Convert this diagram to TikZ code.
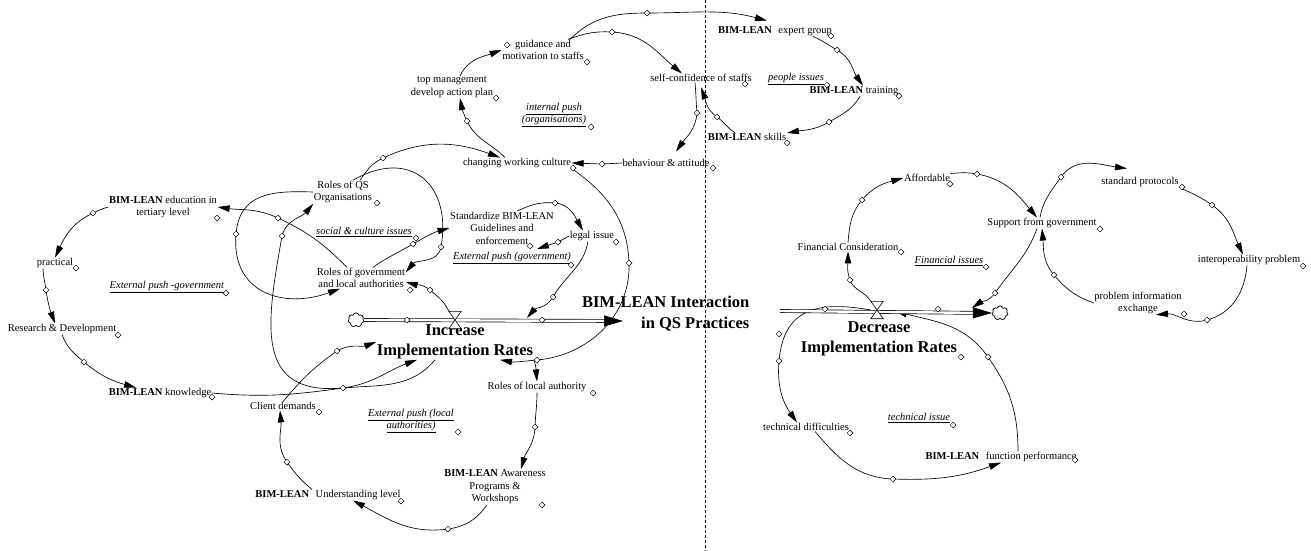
\documentclass[tikz,border=0pt]{standalone}
\usepackage{fontspec}
\setmainfont{Liberation Serif}
\usetikzlibrary{arrows.meta,shapes.geometric,shapes.symbols}
\newcommand{\bl}{\textbf{BIM-LEAN}}
\newcommand{\lpn}[1]{\underline{\textit{#1}}}

\begin{document}
\begin{tikzpicture}[x=1pt, y=1pt,
    lbl/.style={inner sep=0.5pt, align=center, font=\fontsize{10.5}{12.5}\selectfont},
    big/.style={inner sep=0.5pt, align=center, font=\fontsize{16.5}{20}\selectfont\bfseries},
    mk/.style={diamond, draw, fill=white, inner sep=0pt, minimum size=6pt, line width=0.5pt},
    lnk/.style={line width=0.65pt, -{Triangle[length=12pt,width=6.5pt]}},
    pipe/.style={double, double distance=2.4pt, line width=0.65pt, -{Triangle[length=19pt,width=11pt]}},
    valve/.style={minimum width=12pt, minimum height=17pt, inner sep=0pt},
    sink/.style={cloud, cloud puffs=7, draw, fill=white, minimum width=16pt, minimum height=14pt, inner sep=0pt, line width=0.6pt}]
  \useasboundingbox (0,0) rectangle (1311,-551);
  \draw[line width=0.6pt, dash pattern=on 3pt off 2pt] (705,0) -- (705,-551);
  % link points
  \foreach \x/\y [count=\i] in {93/213, 46/290, 84/362, 343/388, 337/351, 287/462, 448/529,
      535/427, 537/360, 278/218, 282/236, 236/234, 441/247, 413/244, 430/290, 555/203,
      558/242, 553/297, 629/263, 383/158, 467/121, 612/32, 647/13, 697/113, 602/164,
      717/117, 837/50, 829/122, 862/200, 850/280, 977/174, 995/293, 1061/177, 1212/205,
      1207/320, 1054/275, 779/361, 893/479, 988/357, 407/320, 542/320, 825/309, 938/309}
    \coordinate (c\i) at (\x,-\y);
  % variable points
  \foreach \x/\y [count=\i] in {217/218, 76/268, 226/293, 118/335, 212/397, 319/412, 401/501,
      542/505, 458/432, 593/393, 377/203, 416/238, 410/290, 530/246, 616/242, 571/265,
      591/127, 587/62, 507/45, 496/98, 745/84, 713/168, 573/168, 831/36, 827/85, 899/96,
      787/143, 950/184, 1100/229, 901/252, 986/267, 1182/187, 1303/266, 1184/314, 961/357,
      850/433, 953/425, 1075/460, 779/334}
    \coordinate (v\i) at (\x,-\y);
  \coordinate (pin1) at (527,-318);
  \coordinate (pin2) at (972,-308);
  \coordinate (pin3) at (895,-311);
  \coordinate (tank1) at (623,-321);
  \coordinate (tank2) at (780,-311);

  % left side
  \node[lbl] (edu) at (163,-207) {\bl{} education in\\tertiary level};
  \node[lbl] (prac) at (55,-263) {practical};
  \node[lbl] (extgov) at (167,-287) {\lpn{External push -government}};
  \node[lbl] (rnd) at (62,-329) {Research \& Development};
  \node[lbl] (know) at (160,-393) {\bl{} knowledge};
  \node[lbl] (client) at (283,-406) {Client demands};
  \node[lbl] (under) at (328,-495) {\bl\hspace{4pt} Understanding level};
  \node[lbl] (aware) at (495,-487) {\bl{} Awareness\\Programs \&\\Workshops};
  \node[lbl] (extloc) at (411,-421) {\lpn{External push (local}\\\lpn{authorities)}};
  \node[lbl] (rla) at (537,-387) {Roles of local authority};
  \node[lbl] (rqs) at (343,-192) {Roles of QS\\Organisations};
  \node[lbl] (social) at (364,-232) {\lpn{social \& culture issues}};
  \node[lbl] (rgov) at (361,-278) {Roles of government\\and local authorities};
  \node[lbl] (std) at (502,-228) {Standardize BIM-LEAN\\Guidelines and\\enforcement};
  \node[lbl] (legal) at (592,-236) {legal issue};
  \node[lbl] (extgovt) at (512,-258) {\lpn{External push (government)}};
  % top
  \node[lbl] (guid) at (543,-50) {guidance and\\motivation to staffs};
  \node[lbl] (top) at (452,-87) {top management\\develop action plan};
  \node[lbl] (intpush) at (554,-115) {\lpn{internal push}\\\lpn{(organisations)}};
  \node[lbl] (selfc) at (701,-78) {self-confidence of staffs};
  \node[lbl] (behav) at (666,-163) {behaviour \& attitude};
  \node[lbl] (cwc) at (517,-163) {changing working culture};
  \node[lbl] (expert) at (775,-31) {\bl\hspace{4pt} expert group};
  \node[lbl] (people) at (796,-79) {\lpn{people issues}};
  \node[lbl] (train) at (854,-91) {\bl{} training};
  \node[lbl] (skills) at (747,-137) {\bl{} skills};
  % right side
  \node[lbl] (afford) at (927,-178) {Affordable};
  \node[lbl] (support) at (1042,-223) {Support from government};
  \node[lbl] (fincon) at (848,-247) {Financial Consideration};
  \node[lbl] (finiss) at (949,-261) {\lpn{Financial issues}};
  \node[lbl] (stdprot) at (1140,-182) {standard protocols};
  \node[lbl] (interop) at (1249,-260) {interoperability problem};
  \node[lbl] (pie) at (1138,-303) {problem information\\exchange};
  \node[lbl] (techd) at (806,-427) {technical difficulties};
  \node[lbl] (techi) at (919,-418) {\lpn{technical issue}};
  \node[lbl] (func) at (1001,-457) {\bl\hspace{4pt} function performance};
  % flows and stock
  \node[big] (inc) at (455,-342) {Increase\\Implementation Rates};
  \node[big] (dec) at (879,-339) {Decrease\\Implementation Rates};
  \node[big, anchor=east, align=right, font=\fontsize{16.5}{21}\selectfont\bfseries] (stock) at (750,-314) {BIM-LEAN Interaction\\in QS Practices};
  \node[valve] (valve1) at (455,-320) {};
  \node[valve] (valve2) at (877,-310) {};
  \node[sink] (cloud1) at (356,-320) {};
  \node[sink] (cloud2) at (1000,-313) {};

  % links, left loops
  \draw[lnk] (edu.west) to[out=195,in=25] (c1) to[out=205,in=65] (prac.north);
  \draw[lnk] ([xshift=-12pt]prac.south) to[out=-88,in=98] (c2) to[out=-82,in=110] ([xshift=-7pt]rnd.north);
  \draw[lnk] (rnd.south) to[out=-70,in=140] (c3) to[out=-40,in=165] ([xshift=28pt]know.north west);
  \draw[lnk] (know.east) to[out=-5,in=188] (c4) to[out=8,in=200] ([xshift=-38pt]inc.south);
  \draw[lnk] (client.north) to[out=50,in=215] (c5) to[out=30,in=200] (inc.west);
  \draw[lnk] ([xshift=-16pt]under.north) to[out=140,in=-55] (c6) to[out=125,in=-85] ([xshift=-3pt]client.south);
  \draw[lnk] ([xshift=-8pt]aware.south) to[out=235,in=8] (c7) to[out=188,in=-28] ([xshift=25pt]under.south);
  \draw[lnk] (rla.south) to[out=-90,in=88] (c8) to[out=-92,in=75] ([xshift=26pt]aware.north);
  \draw[lnk] (inc.south east) to[out=-70,in=95] (rla.north);
  \draw[lnk] (cwc.south east) to[out=-35,in=92] (c19) to[out=-88,in=5] (c9) to[out=185,in=-10] ([xshift=45pt]inc.south);
  \draw[lnk] ([xshift=-14pt]rgov.north) to[out=135,in=-25] (c10) to[out=155,in=-8] (edu.east);
  \draw[lnk] ([xshift=-20pt]inc.south) to[out=-130,in=5] (c4) to[out=185,in=-100,looseness=1.4] (c11) to[out=75,in=230] (rqs.south west);
  \draw[lnk] (rqs.west) to[out=178,in=85,looseness=1.2] (c12) to[out=265,in=200,looseness=1.3] ([xshift=-21pt]rgov.south);
  \draw[lnk] ([xshift=10pt]rqs.north) to[out=30,in=80,looseness=1.5] (c13) to[out=-100,in=50] ([yshift=-5pt]rgov.north east);
  \draw[lnk] ([xshift=12pt]rgov.north) to[out=35,in=210] (c14) to[out=30,in=195] (std.west);
  \draw[lnk] (valve1.north west) to[out=115,in=-40] (c15) to[out=140,in=-15] ([yshift=-4pt]rgov.east);
  \draw[lnk] ([xshift=15pt]std.north) to[out=25,in=175] (c16) to[out=-5,in=120] ([xshift=-9pt]legal.north);
  \draw[lnk] (legal.west) -- (c17) -- ([xshift=7pt,yshift=-3pt]v14);
  \draw[lnk] ([xshift=-4pt]legal.south) to[out=-100,in=60] (c18) to[out=240,in=50] (pin1);
  % links, top loops
  \draw[lnk] ([xshift=17pt]rqs.north) to[out=55,in=205] (c20) to[out=25,in=160] ([xshift=-17pt]cwc.north);
  \draw[lnk] ([xshift=-12pt]cwc.north) to[out=135,in=-65] (c21) to[out=115,in=-80] ([xshift=8pt]top.south);
  \draw[lnk] ([xshift=8pt]top.north) to[out=65,in=200] (guid.west);
  \draw[lnk] ([xshift=25pt]guid.north) to[out=20,in=177] (c22) to[out=-3,in=140] ([xshift=-19pt]selfc.north);
  \draw[lnk] ([xshift=27pt]guid.north) to[out=45,in=180] (c23) to[out=0,in=165] ([xshift=-8pt,yshift=5pt]expert.north);
  \draw[lnk] ([xshift=-6pt]selfc.south) to[out=-85,in=95] (c24) to[out=-95,in=55] ([xshift=10pt,yshift=7pt]behav.north);
  \draw[lnk] (behav.west) -- (c25) -- (cwc.east);
  \draw[lnk] ([xshift=-12pt]skills.north) to[out=150,in=-35] (c26) to[out=145,in=-70] ([yshift=-5pt]selfc.south);
  \draw[lnk] ([xshift=38pt]expert.south) to[out=-25,in=150] (c27) to[out=-30,in=125] ([xshift=9pt]train.north);
  \draw[lnk] ([xshift=6pt]train.south) to[out=-120,in=30] (c28) to[out=210,in=10] ([yshift=4pt]skills.east);
  % links, right loops
  \draw[lnk] (fincon.north) to[out=85,in=230] (c29) to[out=50,in=195] (afford.west);
  \draw[lnk] (valve2.north west) to[out=120,in=-70] (c30) to[out=110,in=-90] (fincon.south);
  \draw[lnk] (afford.north east) to[out=5,in=170] (c31) to[out=-10,in=130] ([xshift=-5pt]support.north);
  \draw[lnk] ([xshift=-5pt]support.south) to[out=-110,in=55] (c32) to[out=235,in=35] (pin2);
  \draw[lnk] ([xshift=-2pt]support.north) to[out=80,in=235] (c33) to[out=55,in=172] ([xshift=-13pt,yshift=8pt]stdprot.north);
  \draw[lnk] (stdprot.south east) to[out=-25,in=145] (c34) to[out=-35,in=115] ([xshift=-6pt]interop.north);
  \draw[lnk] ([xshift=-2pt]interop.south) to[out=-95,in=15] (c35) to[out=195,in=5] ([xshift=18pt]pie.south);
  \draw[lnk] (pie.west) to[out=160,in=-50] (c36) to[out=130,in=-85] (support.south);
  \draw[lnk] (valve2.west) to[out=170,in=85,looseness=1.3] (c37) to[out=-95,in=125] ([xshift=-9pt]techd.north);
  \draw[lnk] ([xshift=9pt]techd.south) to[out=-50,in=178] (c38) to[out=-2,in=200] (func.south);
  \draw[lnk] ([xshift=17pt]func.north) to[out=90,in=-55] (c39) to[out=125,in=-15] (pin3);

  % pipes and valves
  \draw[pipe] (cloud1.east) -- (tank1);
  \draw[pipe] (tank2) -- (cloud2.west);
  \node[sink] (cloud1b) at (cloud1) {};
  \node[sink] (cloud2b) at (cloud2) {};
  \foreach \v in {valve1,valve2}
    \draw[fill=white, line width=0.6pt] (\v.north west) -- (\v.north east) -- (\v.south west) -- (\v.south east) -- cycle;

  % markers
  \foreach \i in {1,...,43} \node[mk] (dc\i) at (c\i) {};
  \foreach \i in {1,...,39} \node[mk] (dv\i) at (v\i) {};
\end{tikzpicture}
\end{document}
